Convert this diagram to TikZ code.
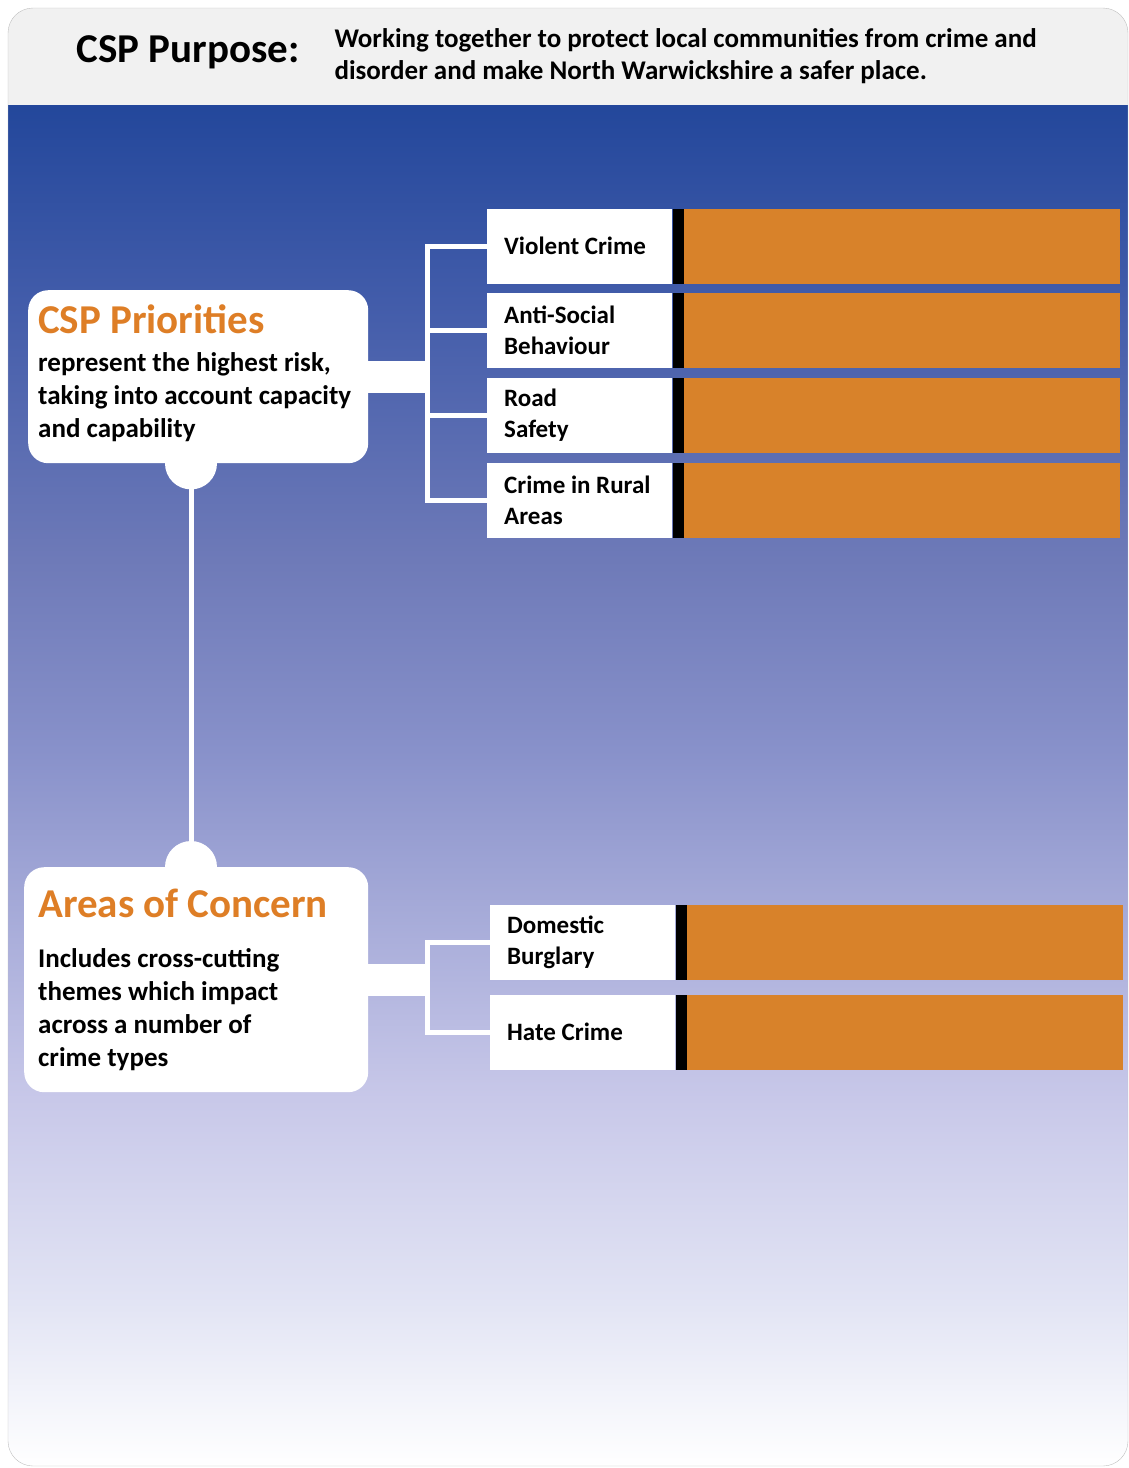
\documentclass[tikz,border=0pt]{standalone}
\usepackage{fontspec}
\setmainfont{Carlito}
\usetikzlibrary{positioning}
\definecolor{cspblue}{RGB}{35,71,155}
\definecolor{cspsky}{RGB}{66,92,170}
\definecolor{cspdusk}{RGB}{110,122,184}
\definecolor{cspmid}{RGB}{136,145,202}
\definecolor{csplilac}{RGB}{200,200,233}
\definecolor{csppale}{RGB}{226,228,244}
\definecolor{csporange}{RGB}{216,130,42}
\definecolor{csptitle}{RGB}{222,126,38}
\definecolor{cspgrey}{RGB}{241,241,241}
\pgfdeclareverticalshading{cspfade}{100bp}{color(0bp)=(white); color(25bp)=(white);
  color(31bp)=(csppale); color(38.5bp)=(csplilac); color(51.3bp)=(cspmid);
  color(58.3bp)=(cspdusk); color(67.8bp)=(cspsky); color(75bp)=(cspblue); color(100bp)=(cspblue)}
\pgfdeclarelayer{panel}
\pgfdeclarelayer{links}
\pgfsetlayers{panel,links,main}
\newcommand{\pxfont}[2]{\fontsize{#1}{#2}\selectfont\bfseries}

\begin{document}
\begin{tikzpicture}[x=1pt, y=-1pt,
    link/.style={draw=white, line width=5pt},
    band/.style={draw=white, line width=32pt},
    plainspace/.style={execute at begin node={\spaceskip=0pt\xspaceskip=0pt\relax}},
    sidebox/.style={fill=white, rounded corners=20pt, anchor=north west, align=left, plainspace,
      inner ysep=0pt, font=\pxfont{27}{33}},
    item/.style={fill=white, anchor=west, minimum width=185pt, minimum height=75pt, plainspace,
      text width=151pt, inner xsep=17pt, inner ysep=0pt, align=left, font=\pxfont{25}{31}},
    blackedge/.style={fill=black, minimum width=11pt, minimum height=75pt, inner sep=0pt},
    orangefill/.style={fill=csporange, minimum width=436pt, minimum height=75pt, inner sep=0pt}]
  \useasboundingbox (0,0) rectangle (1129,1468);
  % panel
  \begin{pgfonlayer}{panel}
    \begin{scope}
      \clip[rounded corners=25pt] (8,8) rectangle (1128,1466);
      \fill[cspgrey] (8,8) rectangle (1128,105);
      \shade[shading=cspfade] (8,105) rectangle (1128,1466);
    \end{scope}
    \draw[black!25, rounded corners=25pt] (8,8) rectangle (1128,1466);
  \end{pgfonlayer}

  % header
  \node[anchor=west, font=\pxfont{41}{44}] (purpose) at (73,52) {CSP Purpose:};
  \node[anchor=west, align=left, font=\pxfont{27}{32}] (mission) at (331,56)
    {Working together to protect local communities from crime and\\
     disorder and make North Warwickshire a safer place.};

  % the two side boxes
  \node[sidebox, minimum width=340pt, minimum height=173pt, text width=320pt, inner xsep=10pt] (prio) at (28,290)
    {{\color{csptitle}\fontsize{41}{44}\selectfont CSP Priorities}\\[5pt]
     represent the highest risk,\\
     taking into account capacity\\
     and capability\\[-21pt]\mbox{}};
  \node[sidebox, minimum width=344pt, minimum height=225pt, text width=316pt, inner xsep=14pt] (area) at (24,867)
    {{\color{csptitle}\fontsize{41}{44}\selectfont Areas of Concern}\\[17pt]
     Includes cross-cutting\\
     themes which impact\\
     across a number of\\
     crime types};

  \coordinate (stem) at (191,0);
  \begin{pgfonlayer}{links}
    \draw[link] (prio.south -| stem) -- (area.north -| stem);
    \fill[white] (prio.south -| stem) circle (26pt);
    \fill[white] (area.north -| stem) circle (26pt);
  \end{pgfonlayer}

  % crime types
  \foreach \nm/\lbl/\x/\y in {vc/{Violent Crime}/487/246,
      asb/{Anti-Social\\Behaviour}/487/330.5,
      road/{Road\\Safety}/487/415.5,
      rural/{Crime in Rural\\Areas}/487/500.5,
      burg/{Domestic\\Burglary}/490/942,
      hate/{Hate Crime}/490/1032}{
    \node[item] (\nm) at (\x,\y) {\lbl};
    \node[blackedge, right=0pt of \nm] (\nm-edge) {};
    \node[orangefill, right=0pt of \nm-edge] (\nm-fill) {};
  }

  % brackets
  \coordinate (pj) at (427,0);
  \draw[band] (prio.east) -- (prio.east -| pj);
  \draw[link] (vc.west) -- (vc.west -| pj) -- (rural.west -| pj) -- (rural.west);
  \foreach \nm in {asb,road}
    \draw[link] (\nm.west) -- (\nm.west -| pj);
  \draw[band] (area.east) -- (area.east -| pj);
  \draw[link] (burg.west) -- (burg.west -| pj) -- (hate.west -| pj) -- (hate.west);
\end{tikzpicture}
\end{document}
